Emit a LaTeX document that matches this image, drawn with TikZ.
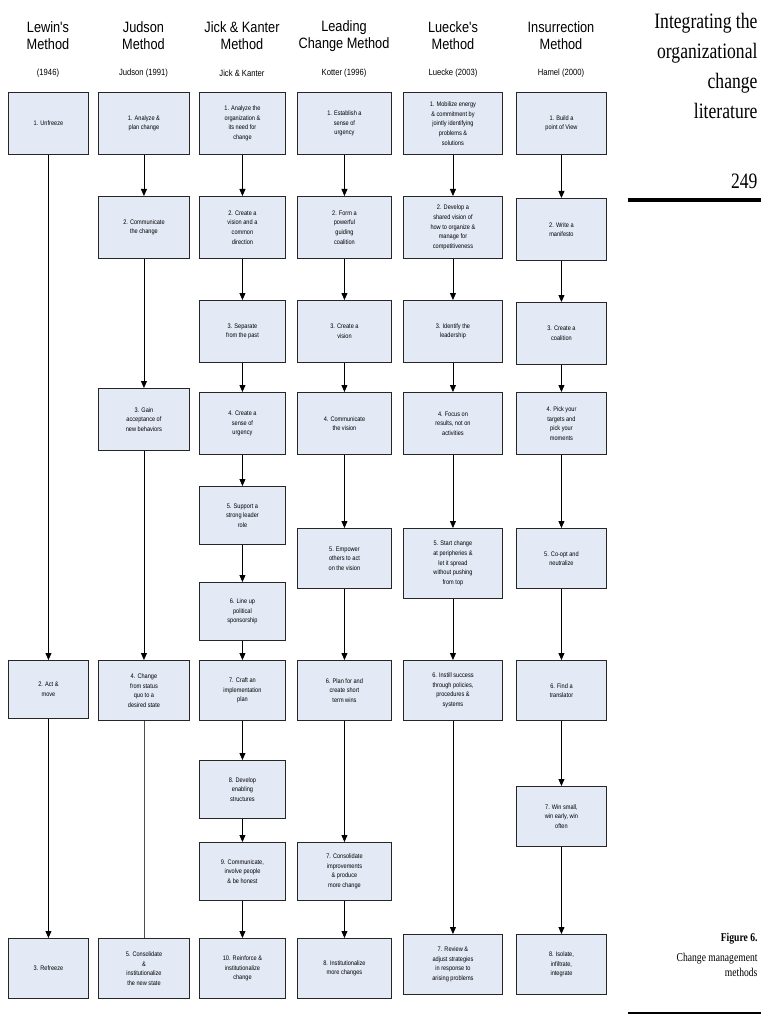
\documentclass[tikz,border=0pt]{standalone}
\usepackage{fontspec}
\setmainfont{Liberation Sans}
\newfontfamily\nsans[FakeStretch=0.85]{Liberation Sans}
\newfontfamily\nserif[FakeStretch=0.8]{Liberation Serif}
\definecolor{boxfill}{HTML}{E3E9F5}
\begin{document}
\begin{tikzpicture}[x=1pt,y=-1pt,
  bx/.style={draw=black!85,line width=0.9pt,fill=boxfill,align=center,font=\fontsize{6.6}{9.6}\selectfont\nsans,inner sep=1pt},
  ar/.style={-{Triangle[length=7pt,width=6pt]},line width=0.8pt},
  hd/.style={align=center,font=\fontsize{15}{20}\selectfont\nsans},
  sb/.style={font=\fontsize{9}{11}\selectfont\nsans}]
\useasboundingbox (0,0) rectangle (768,1024);
\usetikzlibrary{arrows.meta}
\newcommand{\B}[6]{\node[bx,minimum width=#3,minimum height=#4,anchor=north west,text width=#3-6] (#1) at (#2) {#5};}
% headers
\foreach \x/\a/\b/\s in {48/Lewin's/Method/(1946),143.5/Judson/Method/Judson (1991),242/Jick \& Kanter/Method/Jick \& Kanter,344/Leading/Change Method/Kotter (1996),453/Luecke's/Method/Luecke (2003),561/Insurrection/Method/Hamel (2000)}{
  \node[hd] at (\x,36) {\a\\[-3pt]\b};
  \node[sb] at (\x,73) {\s};}
% right text
\node[anchor=north east,align=right,font=\fontsize{22}{30}\selectfont\nserif] (t) at (761,10) {Integrating the\\organizational\\change\\literature};
\node[anchor=east,font=\fontsize{22}{26}\selectfont\nserif] (p) at (761,181) {249};
\draw[line width=4pt] (628,200) -- (761,200);
\node[anchor=north east,align=right,font=\fontsize{12}{20}\selectfont\nserif] (f) at (761,930) {\textbf{Figure 6.}\\Change management\\[-5pt]methods};
\draw[line width=2pt] (628,1013) -- (761,1013);
% col1
\node[bx,minimum width=80,minimum height=62,anchor=north west] (a1) at (8,92) {1. Unfreeze};
\node[bx,minimum width=80,minimum height=58,anchor=north west] (a2) at (8,660) {2. Act \&\\move};
\node[bx,minimum width=80,minimum height=60,anchor=north west] (a3) at (8,938) {3. Refreeze};
\draw[ar] (a1) -- (a2); \draw[ar] (a2) -- (a3);
% generic macro: name, x, y, h, text
\def\W{91}
\newcommand{\bb}[5]{\node[bx,minimum width=\W,minimum height=#4,anchor=north west] (#1) at (#2,#3) {#5};}
\def\W{91}
\bb{b1}{98}{92}{62}{1. Analyze \&\\plan change}
\bb{b2}{98}{196}{62}{2. Communicate\\the change}
\bb{b3}{98}{388}{62}{3. Gain\\acceptance of\\new behaviors}
\bb{b4}{98}{660}{60}{4. Change\\from status\\quo to a\\desired state}
\bb{b5}{98}{938}{60}{5. Consolidate\\\&\\institutionalize\\the new state}
\draw[ar] (b1)--(b2); \draw[ar] (b2)--(b3); \draw[ar] (b3)--(b4); \draw[line width=0.4pt,black!70] (b4)--(b5);
\def\W{86}
\bb{c1}{199}{92}{62}{1. Analyze the\\organization \&\\its need for\\change}
\bb{c2}{199}{196}{62}{2. Create a\\vision and a\\common\\direction}
\bb{c3}{199}{300}{62}{3. Separate\\from the past}
\bb{c4}{199}{392}{62}{4. Create a\\sense of\\urgency}
\bb{c5}{199}{486}{58}{5. Support a\\strong leader\\role}
\bb{c6}{199}{582}{58}{6. Line up\\political\\sponsorship}
\bb{c7}{199}{660}{60}{7. Craft an\\implementation\\plan}
\bb{c8}{199}{760}{58}{8. Develop\\enabling\\structures}
\bb{c9}{199}{842}{58}{9. Communicate,\\involve people\\\& be honest}
\bb{c10}{199}{938}{60}{10. Reinforce \&\\institutionalize\\change}
\foreach \i [evaluate=\i as \j using int(\i+1)] in {1,...,9}{\draw[ar] (c\i)--(c\j);}
\def\W{94}
\bb{d1}{297}{92}{62}{1. Establish a\\sense of\\urgency}
\bb{d2}{297}{196}{62}{2. Form a\\powerful\\guiding\\coalition}
\bb{d3}{297}{300}{62}{3. Create a\\vision}
\bb{d4}{297}{392}{62}{4. Communicate\\the vision}
\bb{d5}{297}{528}{60}{5. Empower\\others to act\\on the vision}
\bb{d6}{297}{660}{60}{6. Plan for and\\create short\\term wins}
\bb{d7}{297}{842}{58}{7. Consolidate\\improvements\\\& produce\\more change}
\bb{d8}{297}{938}{60}{8. Institutionalize\\more changes}
\foreach \i [evaluate=\i as \j using int(\i+1)] in {1,...,7}{\draw[ar] (d\i)--(d\j);}
\def\W{99}
\bb{e1}{403}{92}{62}{1. Mobilize energy\\\& commitment by\\jointly identifying\\problems \&\\solutions}
\bb{e2}{403}{196}{62}{2. Develop a\\shared vision of\\how to organize \&\\manage for\\competitiveness}
\bb{e3}{403}{300}{62}{3. Identify the\\leadership}
\bb{e4}{403}{392}{62}{4. Focus on\\results, not on\\activities}
\bb{e5}{403}{528}{70}{5. Start change\\at peripheries \&\\let it spread\\without pushing\\from top}
\bb{e6}{403}{660}{60}{6. Instill success\\through policies,\\procedures \&\\systems}
\bb{e7}{403}{934}{60}{7. Review \&\\adjust strategies\\in response to\\arising problems}
\foreach \i [evaluate=\i as \j using int(\i+1)] in {1,...,6}{\draw[ar] (e\i)--(e\j);}
\def\W{90}
\bb{f1}{516}{92}{62}{1. Build a\\point of View}
\bb{f2}{516}{198}{62}{2. Write a\\manifesto}
\bb{f3}{516}{302}{62}{3. Create a\\coalition}
\bb{f4}{516}{392}{62}{4. Pick your\\targets and\\pick your\\moments}
\bb{f5}{516}{528}{60}{5. Co-opt and\\neutralize}
\bb{f6}{516}{660}{60}{6. Find a\\translator}
\bb{f7}{516}{786}{60}{7. Win  small,\\win early, win\\often}
\bb{f8}{516}{934}{60}{8. Isolate,\\infiltrate,\\integrate}
\foreach \i [evaluate=\i as \j using int(\i+1)] in {1,...,7}{\draw[ar] (f\i)--(f\j);}
\end{tikzpicture}
\end{document}
